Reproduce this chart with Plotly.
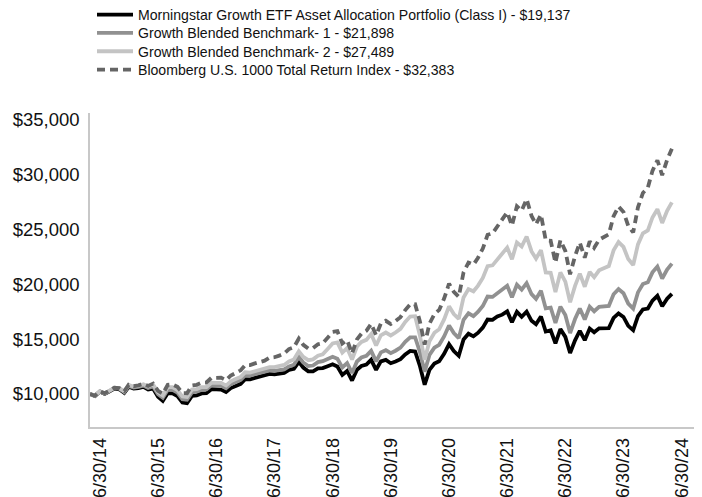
import pandas as pd
import plotly.graph_objects as go

try:
    dates = pd.date_range("2014-06-30", periods=121, freq="ME")
except Exception:
    dates = pd.date_range("2014-06-30", periods=121, freq="M")

series_names = [
    "Morningstar Growth ETF Asset Allocation Portfolio (Class I) - $19,137",
    "Growth Blended Benchmark- 1 - $21,898",
    "Growth Blended Benchmark- 2 - $27,489",
    "Bloomberg U.S. 1000 Total Return Index - $32,383",
]

portfolio = [10000,
    9820, 10220, 10020, 10240, 10490, 10430, 10110, 10660, 10500, 10540, 10650, 10420,
    10490, 9740, 9370, 10070, 10050, 9800, 9220, 9160, 9820, 9880, 10050, 10080,
    10440, 10420, 10410, 10180, 10540, 10730, 10930, 11350, 11340, 11470, 11600, 11670,
    11830, 11800, 11840, 11920, 12200, 12300, 12940, 12410, 12070, 12070, 12330, 12370,
    12540, 12710, 12510, 11740, 12100, 11230, 12220, 12560, 12690, 13120, 12210, 12980,
    13110, 12810, 12970, 13180, 13610, 13930, 13880, 12620, 10850, 12200, 12780, 12990,
    13660, 14550, 13920, 13490, 14980, 15500, 15260, 15570, 16060, 16800, 16770, 17070,
    17240, 17540, 16550, 17500, 17050, 17510, 16680, 16360, 17070, 15700, 15810, 14620,
    15920, 15210, 13740, 14900, 15770, 14910, 15970, 15640, 15990, 16030, 16020, 16940,
    17350, 17030, 16220, 15830, 17100, 17720, 17800, 18520, 18960, 18000, 18690, 19137]

benchmark_1 = [10000,
    9830, 10230, 10040, 10280, 10530, 10490, 10180, 10740, 10590, 10640, 10770, 10550,
    10690, 9990, 9670, 10400, 10380, 10120, 9530, 9470, 10140, 10210, 10390, 10420,
    10790, 10780, 10760, 10520, 10900, 11090, 11290, 11700, 11690, 11810, 11940, 12000,
    12160, 12120, 12160, 12240, 12520, 12670, 13370, 12870, 12560, 12600, 12910, 13000,
    13200, 13400, 13210, 12420, 12820, 11920, 12970, 13330, 13480, 13940, 12980, 13800,
    14000, 13730, 13950, 14230, 14760, 15170, 15170, 13890, 12040, 13570, 14230, 14490,
    15250, 16260, 15560, 15100, 16770, 17370, 17110, 17480, 18030, 18890, 18860, 19220,
    19480, 19880, 18820, 19970, 19520, 20120, 19110, 18680, 19430, 17810, 17890, 16490,
    17970, 17200, 15560, 16840, 17800, 16800, 17960, 17550, 17960, 18030, 18030, 19100,
    19570, 19190, 18250, 17790, 19270, 20040, 20200, 21100, 21630, 20540, 21360, 21898]

benchmark_2 = [10000,
    9840, 10250, 10070, 10310, 10570, 10540, 10240, 10820, 10680, 10750, 10890, 10690,
    10860, 10170, 9870, 10620, 10620, 10360, 9770, 9720, 10400, 10450, 10630, 10640,
    11030, 11020, 11010, 10770, 11160, 11360, 11560, 11980, 11960, 12080, 12200, 12260,
    12460, 12450, 12530, 12650, 12970, 13150, 13900, 13390, 13090, 13160, 13500, 13620,
    14110, 14620, 14710, 13780, 14190, 13150, 14330, 14750, 14940, 15470, 14430, 15360,
    15610, 15340, 15610, 15950, 16580, 17070, 17100, 15410, 13120, 14820, 15590, 15900,
    16810, 18000, 17300, 16860, 18810, 19570, 19370, 19870, 20590, 21670, 21740, 22260,
    22720, 23360, 22290, 23820, 23460, 24370, 23010, 22360, 23130, 21090, 21060, 19310,
    21100, 20250, 18370, 19870, 20980, 19790, 21140, 20660, 21290, 21510, 21670, 23110,
    23860, 23420, 22310, 21770, 23650, 24660, 24930, 26110, 26860, 25610, 26720, 27489]

bloomberg_1000 = [10000,
    9840, 10250, 10070, 10310, 10570, 10540, 10250, 10840, 10710, 10790, 10940, 10740,
    10950, 10290, 10020, 10830, 10870, 10650, 10080, 10070, 10780, 10840, 11030, 11050,
    11470, 11480, 11490, 11260, 11690, 11920, 12160, 12630, 12640, 12790, 12950, 13040,
    13310, 13360, 13500, 13690, 14100, 14270, 15060, 14490, 14140, 14190, 14540, 14640,
    15140, 15660, 15730, 14610, 14910, 13700, 14990, 15500, 15770, 16400, 15360, 16430,
    16680, 16380, 16660, 17010, 17660, 18170, 18190, 16700, 14500, 16410, 17290, 17670,
    18710, 20070, 19330, 18870, 21100, 21990, 21800, 22410, 23270, 24530, 24660, 25290,
    25830, 26580, 25370, 27130, 26740, 27790, 26240, 25490, 26370, 24030, 23990, 21990,
    24030, 23060, 20920, 22590, 23820, 22430, 23930, 23340, 24080, 24360, 24570, 26230,
    27110, 26610, 25350, 24740, 27030, 28350, 28820, 30360, 31330, 29970, 31370, 32383]

tick_dates = ["2014-06-30", "2015-06-30", "2016-06-30", "2017-06-30", "2018-06-30",
              "2019-06-30", "2020-06-30", "2021-06-30", "2022-06-30", "2023-06-30",
              "2024-06-30"]
tick_labels = ["6/30/14", "6/30/15", "6/30/16", "6/30/17", "6/30/18", "6/30/19",
               "6/30/20", "6/30/21", "6/30/22", "6/30/23", "6/30/24"]
y_ticks = [10000, 15000, 20000, 25000, 30000, 35000]

all_series = [portfolio, benchmark_1, benchmark_2, bloomberg_1000]
colors = ["#000000", "#919191", "#c4c4c4", "#656565"]
dashes = ["solid", "solid", "solid", "8px,5px"]

# page has an 8px body margin, so the figure is sized to fit the window
W, H = 694, 489
ML, MR, MT, MB = 82, 0, 105, 70
PW = W - ML - MR
PH = H - MT - MB
FONT = "Arial, 'Liberation Sans', sans-serif"

legend_ids = ["legend", "legend2", "legend3", "legend4"]
row_centers_px = [7, 25.3, 43.6, 62]

fig = go.Figure()
for name, vals, col, dsh, lid in zip(series_names, all_series, colors, dashes, legend_ids):
    fig.add_trace(go.Scatter(
        x=dates, y=vals, name=name, mode="lines",
        line=dict(color=col, width=3.8, dash=dsh),
        legend=lid,
    ))

layout_legends = {}
for lid, cy in zip(legend_ids, row_centers_px):
    layout_legends[lid] = dict(
        x=(84 - ML) / PW, xanchor="left",
        y=(H - MB - cy) / PH, yanchor="middle",
        orientation="v", itemwidth=36,
        font=dict(size=14.1, family=FONT, color="#111111"),
        bgcolor="rgba(0,0,0,0)", borderwidth=0,
    )

fig.update_layout(
    width=W, height=H,
    margin=dict(l=ML, r=MR, t=MT, b=MB, autoexpand=False),
    paper_bgcolor="white", plot_bgcolor="white",
    font=dict(family=FONT, color="#111111"),
    showlegend=True,
    **layout_legends,
)
fig.update_xaxes(
    range=["2014-06-30", "2025-01-05"],
    tickvals=tick_dates, ticktext=tick_labels, tickangle=-90,
    tickfont=dict(size=18, family=FONT, color="#111111"),
    ticks="", showgrid=False, zeroline=False,
    showline=True, linecolor="#c8c8c8", linewidth=1.5,
    ticklabelshift=10, ticklabelstandoff=2,
)
fig.update_yaxes(
    range=[6990, 35640],
    tickvals=y_ticks, tickformat="$,.0f",
    tickfont=dict(size=18.5, family=FONT, color="#111111"),
    ticks="", showgrid=False, zeroline=False,
    showline=True, linecolor="#c8c8c8", linewidth=1.5,
    ticklabelstandoff=5,
)
fig.write_html("out.html")
